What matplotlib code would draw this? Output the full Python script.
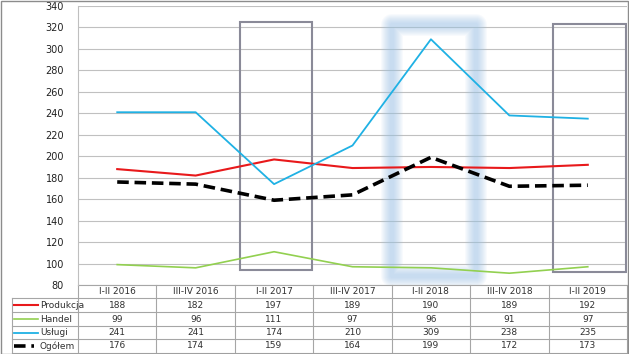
import numpy as np
import matplotlib.pyplot as plt
from matplotlib.patches import Rectangle
from matplotlib.lines import Line2D
import matplotlib.transforms as mtransforms

# Data
categories = ['I-II 2016', 'III-IV 2016', 'I-II 2017', 'III-IV 2017',
              'I-II 2018', 'III-IV 2018', 'I-II 2019']
produkcja = [188, 182, 197, 189, 190, 189, 192]
handel = [99, 96, 111, 97, 96, 91, 97]
uslugi = [241, 241, 174, 210, 309, 238, 235]
ogolem = [176, 174, 159, 164, 199, 172, 173]

series = [
    ('Produkcja', produkcja, '#E8191B', 1.5, '-'),
    ('Handel', handel, '#92D050', 1.2, '-'),
    ('Usługi', uslugi, '#1FB1E4', 1.3, '-'),
    ('Ogółem', ogolem, '#000000', 2.6, (0, (3.2, 1.6))),
]

W, H = 629, 354
fig = plt.figure(figsize=(W / 100, H / 100), dpi=100)
ax = fig.add_axes([78 / W, 1 - 285 / H, (627 - 78) / W, (285 - 6) / H])

x = np.arange(len(categories))
ax.set_xlim(-0.5, len(categories) - 0.5)
ax.set_ylim(80, 340)
ax.set_yticks(np.arange(80, 341, 20))
ax.set_xticks([])
ax.yaxis.grid(True, color='#C0C0C0', lw=0.8)
ax.set_axisbelow(True)
ax.tick_params(axis='y', length=0, pad=10, labelsize=7, labelcolor='#202020')
for s in ['top', 'right', 'bottom']:
    ax.spines[s].set_visible(False)
ax.spines['left'].set_color('#BFBFBF')
ax.spines['left'].set_linewidth(0.8)

# blurred blue highlight box around I-II 2018
for lw in range(4, 24, 2):
    ax.add_patch(Rectangle((3.5, 88), 1.08, 234, fill=False,
                           edgecolor='#9CC2E8', lw=lw * 0.72, alpha=0.07,
                           joinstyle='round', zorder=1))

# gray boxes
ax.add_patch(Rectangle((1.57, 94), 0.91, 231, fill=False,
                       edgecolor='#8A8A98', lw=1.5, zorder=2))
ax.add_patch(Rectangle((5.56, 92), 0.93, 231, fill=False,
                       edgecolor='#8A8A98', lw=1.5, zorder=2))

for name, vals, col, lw, ls in series:
    ax.plot(x, vals, color=col, lw=lw, ls=ls, zorder=3)

# data table below the plot
trans = mtransforms.blended_transform_factory(ax.transData, ax.transAxes)
ph = 285 - 6
rows_px = [285, 298, 312, 326, 339, 353]
rows = [(285 - p) / ph for p in rows_px]
left = -0.5 - 66 / 78.4
grid_c = '#A6A6A6'
for i, yy in enumerate(rows):
    x0 = -0.5 if i == 0 else left
    ax.add_line(Line2D([x0, 6.5], [yy, yy], transform=trans, color=grid_c,
                       lw=0.8, clip_on=False))
for b in np.arange(-0.5, 7, 1.0):
    ax.add_line(Line2D([b, b], [rows[0], rows[-1]], transform=trans,
                       color=grid_c, lw=0.8, clip_on=False))
ax.add_line(Line2D([left, left], [rows[1], rows[-1]], transform=trans,
                   color=grid_c, lw=0.8, clip_on=False))

tc = '#303030'
for i, c in enumerate(categories):
    ax.text(i, (rows[0] + rows[1]) / 2, c, transform=trans, ha='center',
            va='center', fontsize=6.5, color=tc)
for r, (name, vals, col, lw, ls) in enumerate(series):
    yc = (rows[r + 1] + rows[r + 2]) / 2
    for i, v in enumerate(vals):
        ax.text(i, yc, str(v), transform=trans, ha='center', va='center',
                fontsize=6.5, color=tc)
    x_end = left + 26 / 78.4 if ls == '-' else left + 22 / 78.4
    ax.add_line(Line2D([left + 2 / 78.4, x_end], [yc, yc], transform=trans,
                       color=col, lw=lw, ls=ls, clip_on=False))
    ax.text(left + 28 / 78.4, yc, name, transform=trans, ha='left',
            va='center', fontsize=6.5, color=tc)

# outer border
fig.add_artist(Rectangle((0.5 / W, 0.5 / H), (W - 1.5) / W, (H - 1.5) / H,
                         transform=fig.transFigure, fill=False,
                         edgecolor='#8C8C8C', lw=1.0))

fig.savefig('out.png', dpi=100)
